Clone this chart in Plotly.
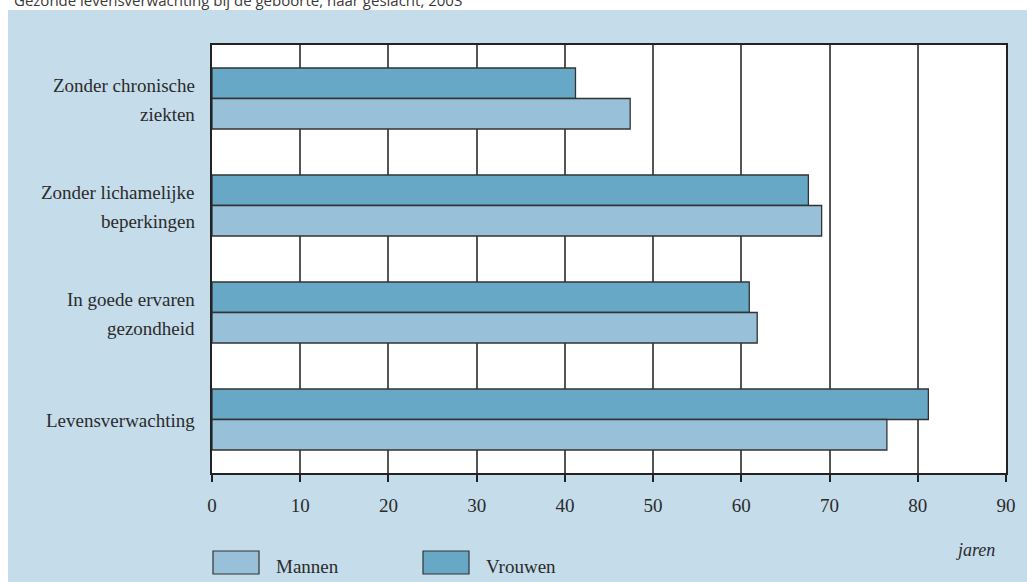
import plotly.graph_objects as go

# ---- data ----
categories = ["Zonder chronische ziekten", "Zonder lichamelijke beperkingen",
              "In goede ervaren gezondheid", "Levensverwachting"]
label_lines = [["Zonder chronische", "ziekten"],
               ["Zonder lichamelijke", "beperkingen"],
               ["In goede ervaren", "gezondheid"],
               ["Levensverwachting"]]
mannen = [47.4, 69.1, 61.8, 76.5]
vrouwen = [41.2, 67.6, 60.9, 81.2]
x_ticks = [0, 10, 20, 30, 40, 50, 60, 70, 80, 90]
series_names = ["Mannen", "Vrouwen"]
title_text = "Gezonde levensverwachting bij de geboorte, naar geslacht, 2003"
unit_text = "jaren"

# ---- style ----
W, H = 1027, 582
ML, MR, MT, MB = 212, 21, 45, 109
PW, PH = W - ML - MR, H - MT - MB
C_MAN = "#98c1d9"
C_VROUW = "#67a8c7"
C_BG = "#c5dcea"
C_TXT = "#2b2b2b"
SERIF = "Liberation Serif, Times New Roman, serif"
FS = 19


def px(xp):
    return (xp - ML) / PW


def py(yp):
    return (H - MB - yp) / PH


fig = go.Figure()
fig.add_trace(go.Bar(y=categories, x=vrouwen, name=series_names[1], orientation="h",
                     marker=dict(color=C_VROUW, line=dict(color="#333333", width=1.3))))
fig.add_trace(go.Bar(y=categories, x=mannen, name=series_names[0], orientation="h",
                     marker=dict(color=C_MAN, line=dict(color="#333333", width=1.3))))

annotations = []
for cat, lines in zip(categories, label_lines):
    n = len(lines)
    for i, ln in enumerate(lines):
        shift = (n - 1) / 2 * 29 - i * 29
        annotations.append(dict(x=0, xref="paper", y=cat, yref="y", text=ln,
                                xanchor="right", yanchor="middle", xshift=-15,
                                yshift=shift - 1, showarrow=False,
                                font=dict(family=SERIF, size=FS, color=C_TXT)))

# page frame: white strips at top and left
shapes = [
    dict(type="rect", xref="paper", yref="paper", x0=px(-20), x1=px(W + 20), y0=py(10), y1=py(-20),
         fillcolor="white", line=dict(width=0), layer="above"),
    dict(type="rect", xref="paper", yref="paper", x0=px(-20), x1=px(8), y0=py(H + 20), y1=py(-20),
         fillcolor="white", line=dict(width=0), layer="above"),
]
# legend (manual swatches)
leg_x = [213, 423]
leg_cols = [C_MAN, C_VROUW]
for lx, col, name in zip(leg_x, leg_cols, series_names):
    shapes.append(dict(type="rect", xref="paper", yref="paper", x0=px(lx), x1=px(lx + 46),
                       y0=py(574), y1=py(551), fillcolor=col,
                       line=dict(color="#333333", width=1.2), layer="above"))
    annotations.append(dict(x=px(lx + 61), xref="paper", y=py(566), yref="paper", text=name,
                            xanchor="left", yanchor="middle", showarrow=False,
                            font=dict(family=SERIF, size=FS, color=C_TXT)))

annotations.append(dict(x=px(975), xref="paper", y=py(550), yref="paper",
                        text="<i>" + unit_text + "</i>", xanchor="center", yanchor="middle",
                        showarrow=False, font=dict(family=SERIF, size=18, color=C_TXT)))
annotations.append(dict(x=px(12), xref="paper", y=py(0), yref="paper", text=title_text,
                        xanchor="left", yanchor="middle", showarrow=False,
                        font=dict(family="Open Sans, sans-serif", size=15, color="#3a3a3a")))

fig.update_layout(
    width=W, height=H,
    margin=dict(l=ML, r=MR, t=MT, b=MB, pad=0),
    paper_bgcolor=C_BG, plot_bgcolor="white",
    barmode="group", bargap=0.43, bargroupgap=0,
    showlegend=False,
    shapes=shapes, annotations=annotations,
    xaxis=dict(range=[0, 90], tickvals=x_ticks, showgrid=True, gridcolor="#555555",
               gridwidth=1.5, showline=True, linecolor="#222222", linewidth=1.5,
               mirror=True, ticks="outside", ticklen=7, tickwidth=1.5, tickcolor="#222222",
               ticklabelstandoff=7, zeroline=False,
               tickfont=dict(family=SERIF, size=FS, color=C_TXT), fixedrange=True),
    yaxis=dict(autorange="reversed", showticklabels=False, showgrid=False, ticks="",
               showline=True, linecolor="#222222", linewidth=1.5, mirror=True,
               fixedrange=True),
)

fig.write_html("out.html", config={"displayModeBar": False},
               post_script="document.body.style.margin='0';document.body.style.overflow='hidden';")
